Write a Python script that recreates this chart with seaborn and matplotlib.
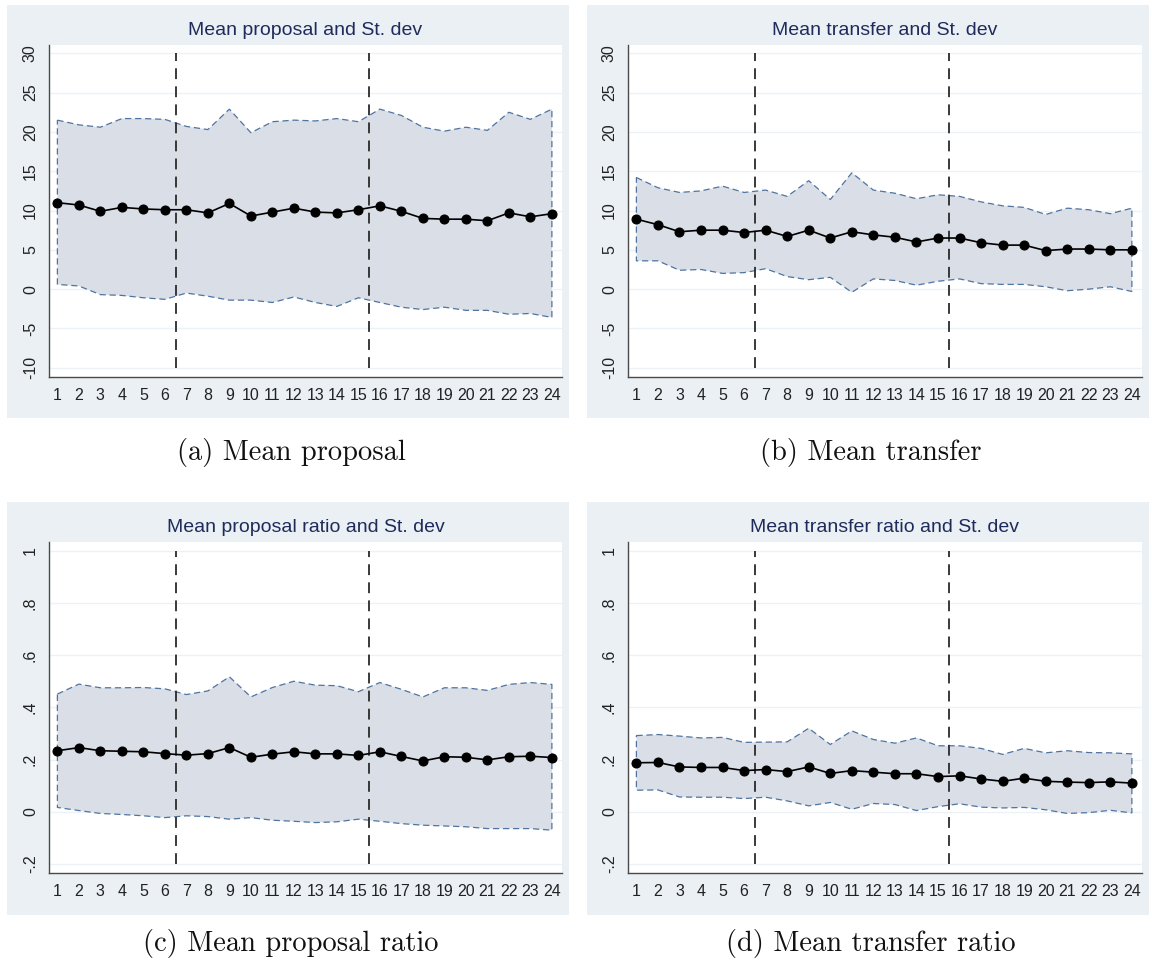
import numpy as np
import matplotlib
matplotlib.use("Agg")
import matplotlib.pyplot as plt
import seaborn as sns
from matplotlib.patches import Rectangle

# ---- data -------------------------------------------------------------
rounds = list(range(1, 25))

proposal_mean = [11.0, 10.7, 9.9, 10.4, 10.2, 10.1, 10.1, 9.7, 10.9, 9.3, 9.8, 10.3,
                 9.8, 9.7, 10.1, 10.6, 9.9, 9.0, 8.9, 8.9, 8.7, 9.7, 9.2, 9.6]
proposal_upper = [21.5, 20.9, 20.6, 21.7, 21.7, 21.6, 20.7, 20.3, 22.9, 19.9, 21.3, 21.5,
                  21.4, 21.7, 21.3, 22.9, 22.1, 20.6, 20.1, 20.6, 20.2, 22.5, 21.6, 22.9]
proposal_lower = [0.6, 0.4, -0.7, -0.8, -1.1, -1.3, -0.5, -0.9, -1.4, -1.4, -1.7, -1.0,
                  -1.7, -2.2, -1.1, -1.7, -2.3, -2.6, -2.3, -2.7, -2.7, -3.2, -3.1, -3.6]

transfer_mean = [8.9, 8.2, 7.3, 7.5, 7.5, 7.2, 7.5, 6.7, 7.5, 6.5, 7.3, 6.9,
                 6.6, 6.0, 6.5, 6.5, 5.9, 5.6, 5.6, 4.9, 5.1, 5.1, 5.0, 5.0]
transfer_upper = [14.2, 12.9, 12.3, 12.5, 13.1, 12.3, 12.6, 11.8, 13.8, 11.4, 14.8, 12.6,
                  12.2, 11.5, 12.0, 11.8, 11.1, 10.6, 10.4, 9.5, 10.3, 10.1, 9.6, 10.3]
transfer_lower = [3.6, 3.6, 2.4, 2.5, 2.0, 2.1, 2.6, 1.6, 1.2, 1.5, -0.4, 1.3,
                  1.1, 0.5, 1.0, 1.3, 0.7, 0.6, 0.6, 0.3, -0.2, 0.0, 0.3, -0.3]

prop_ratio_mean = [0.234, 0.246, 0.234, 0.232, 0.230, 0.223, 0.217, 0.223, 0.246, 0.209, 0.221, 0.230,
                   0.222, 0.222, 0.216, 0.230, 0.212, 0.195, 0.211, 0.209, 0.199, 0.211, 0.213, 0.208]
prop_ratio_upper = [0.451, 0.489, 0.475, 0.475, 0.476, 0.471, 0.449, 0.463, 0.517, 0.440, 0.476, 0.500,
                    0.485, 0.483, 0.460, 0.495, 0.469, 0.440, 0.475, 0.475, 0.465, 0.488, 0.495, 0.488]
prop_ratio_lower = [0.017, 0.005, -0.006, -0.010, -0.015, -0.022, -0.015, -0.018, -0.028, -0.022, -0.032, -0.036,
                    -0.041, -0.038, -0.028, -0.036, -0.045, -0.051, -0.054, -0.057, -0.064, -0.064, -0.064, -0.070]

trans_ratio_mean = [0.188, 0.189, 0.172, 0.170, 0.170, 0.158, 0.162, 0.154, 0.172, 0.147, 0.158, 0.152,
                    0.146, 0.146, 0.135, 0.138, 0.126, 0.117, 0.129, 0.117, 0.114, 0.112, 0.115, 0.110]
trans_ratio_upper = [0.292, 0.296, 0.290, 0.283, 0.285, 0.266, 0.267, 0.268, 0.320, 0.258, 0.310, 0.277,
                     0.263, 0.283, 0.253, 0.253, 0.243, 0.220, 0.243, 0.226, 0.234, 0.227, 0.226, 0.222]
trans_ratio_lower = [0.083, 0.084, 0.057, 0.056, 0.056, 0.051, 0.056, 0.042, 0.023, 0.036, 0.010, 0.032,
                     0.028, 0.005, 0.020, 0.031, 0.018, 0.015, 0.017, 0.008, -0.006, -0.003, 0.006, -0.004]

level_ticks = [-10, -5, 0, 5, 10, 15, 20, 25, 30]
level_labels = ["-10", "-5", "0", "5", "10", "15", "20", "25", "30"]
ratio_ticks = [-0.2, 0.0, 0.2, 0.4, 0.6, 0.8, 1.0]
ratio_labels = ["-.2", "0", ".2", ".4", ".6", ".8", "1"]

phase_breaks = [6.5, 15.5]

titles = ["Mean proposal and St. dev", "Mean transfer and St. dev",
          "Mean proposal ratio and St. dev", "Mean transfer ratio and St. dev"]
captions = ["(a) Mean proposal", "(b) Mean transfer",
            "(c) Mean proposal ratio", "(d) Mean transfer ratio"]

# ---- style ------------------------------------------------------------
sns.set_style("white")
plt.rcParams["font.family"] = ["Liberation Sans", "DejaVu Sans"]

W, H = 1152, 964
fig = plt.figure(figsize=(W / 100, H / 100), dpi=100)
fig.patch.set_facecolor("white")

REGION_BG = "#eaf0f4"
BAND_FILL = "#d9dee7"
BAND_EDGE = "#4f74a0"
GRID = "#edf2f6"
AXIS = "#4a4a4a"
TITLE = "#1f2b5b"


def add_axes_px(left, top, right, bottom):
    return fig.add_axes([left / W, 1 - bottom / H, (right - left) / W, (bottom - top) / H])


def add_region_px(left, top, right, bottom):
    fig.patches.append(Rectangle((left / W, 1 - bottom / H), (right - left) / W, (bottom - top) / H,
                                 transform=fig.transFigure, facecolor=REGION_BG,
                                 edgecolor="none", zorder=-5))


panels = [
    (proposal_mean, proposal_upper, proposal_lower, level_ticks, level_labels, (-11.18, 31.06)),
    (transfer_mean, transfer_upper, transfer_lower, level_ticks, level_labels, (-11.18, 31.06)),
    (prop_ratio_mean, prop_ratio_upper, prop_ratio_lower, ratio_ticks, ratio_labels, (-0.234, 1.033)),
    (trans_ratio_mean, trans_ratio_upper, trans_ratio_lower, ratio_ticks, ratio_labels, (-0.234, 1.033)),
]

# pixel layout: region left/right, plot left/right, caption centre
col_x = [(7, 569, 49, 562, 291), (587, 1149, 628, 1142, 871)]
# region top/bottom, plot top/bottom, caption baseline
row_y = [(5, 418, 45, 377, 460), (502, 915, 542, 873, 951)]

x = np.array(rounds)
for i, (mean, upper, lower, yt, yl, ylim) in enumerate(panels):
    bx0, bx1, ax0, ax1, cap_x = col_x[i % 2]
    by0, by1, ay0, ay1, cap_y = row_y[i // 2]
    add_region_px(bx0, by0, bx1, by1)
    ax = add_axes_px(ax0, ay0, ax1, ay1)
    ax.set_facecolor("white")

    # standard-deviation band
    ax.fill(np.r_[x, x[::-1]], np.r_[upper, lower[::-1]], facecolor=BAND_FILL,
            edgecolor=BAND_EDGE, linestyle=(0, (5, 3)), linewidth=0.9, zorder=2)

    # phase separators
    ax.vlines(phase_breaks, yt[0], yt[-1], colors="#2a2a2a",
              linestyles=(0, (6, 4)), linewidth=1.3, zorder=3)

    # mean per round
    sns.lineplot(x=rounds, y=mean, ax=ax, color="black", linewidth=1.2, marker="o",
                 markersize=6.5, markeredgecolor="black", zorder=4)

    ax.set_xlim(0.61, 24.47)
    ax.set_ylim(*ylim)
    ax.set_xticks(rounds)
    ax.set_xticklabels([str(r) for r in rounds])
    ax.set_yticks(yt)
    ax.set_yticklabels(yl, rotation=90, va="center")
    ax.yaxis.grid(True, color=GRID, linewidth=1.0, zorder=0)
    ax.xaxis.grid(False)
    ax.set_axisbelow(True)
    for side in ("top", "right"):
        ax.spines[side].set_visible(False)
    for side in ("left", "bottom"):
        ax.spines[side].set_color(AXIS)
        ax.spines[side].set_linewidth(1.0)
    ax.tick_params(axis="both", direction="out", length=5, width=1, color=AXIS,
                   labelsize=11.5, labelcolor="#222222", pad=3)
    ax.set_xlabel("")
    ax.set_ylabel("")
    ax.set_title(titles[i], color=TITLE, fontsize=14, pad=7)

    fig.text(cap_x / W, 1 - cap_y / H, captions[i], family="cmr10",
             fontsize=20.5, ha="center", va="baseline", color="#111111")

fig.savefig("out.png", dpi=100)
